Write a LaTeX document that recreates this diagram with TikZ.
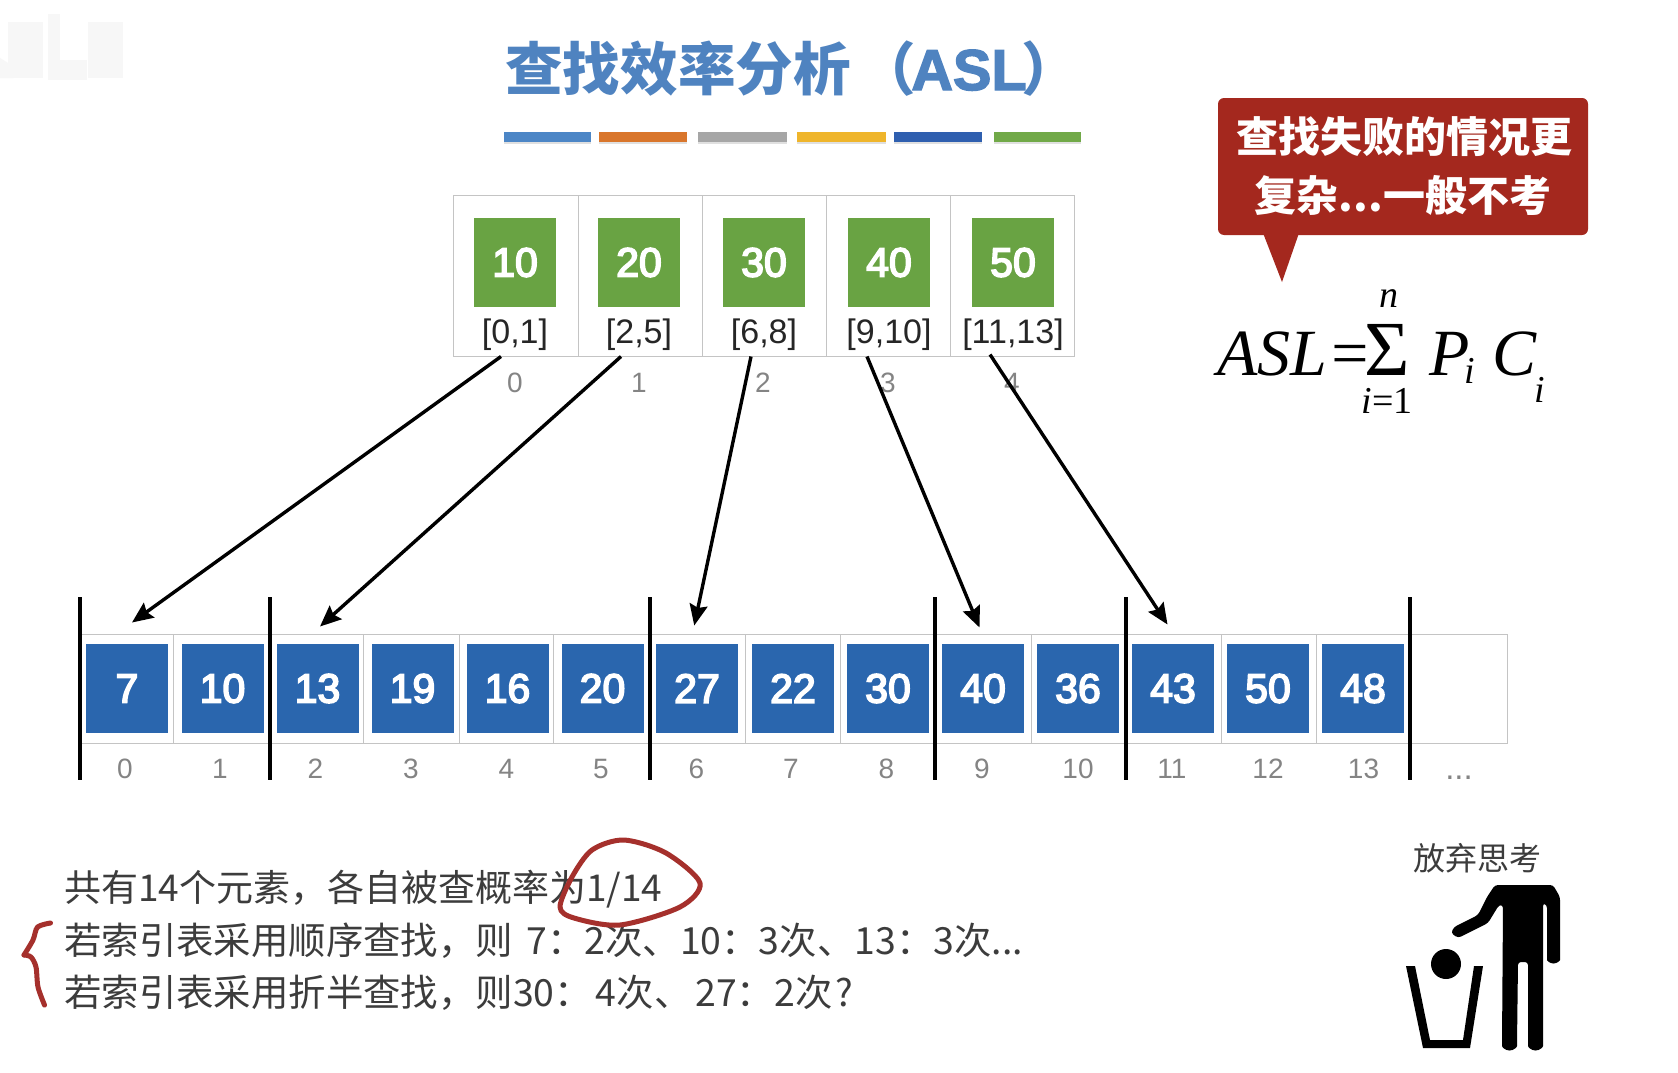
\documentclass[tikz,border=0pt]{standalone}
\usepackage{fontspec}
\setmainfont{Liberation Sans}
\newfontfamily\cjk{Noto Sans CJK SC}
\newfontfamily\tms{Liberation Serif}
\newfontfamily\numfont[FakeBold=4]{Liberation Sans}
\newfontfamily\asciititle[FakeBold=2.5]{Liberation Sans}
\usetikzlibrary{arrows.meta,calc}
\definecolor{titleblue}{HTML}{4F83C0}
\definecolor{cellgray}{HTML}{C4C4C4}
\definecolor{idxgray}{HTML}{848484}
\definecolor{boxblue}{HTML}{2A66AE}
\definecolor{boxgreen}{HTML}{69A343}
\definecolor{calloutred}{HTML}{A4281E}
\definecolor{inkred}{HTML}{A5302C}
\definecolor{bodytext}{HTML}{3C3C3C}
\definecolor{wm}{HTML}{F7F7F7}
\tikzset{
  cellbox/.style={draw=cellgray,line width=1pt,inner sep=0pt,fill=white},
  datablue/.style={fill=boxblue,text=white,minimum width=82pt,minimum height=89pt,inner sep=0pt,font=\numfont\fontsize{41}{46}\selectfont},
  datagreen/.style={fill=boxgreen,text=white,minimum width=82pt,minimum height=89pt,inner sep=0pt,font=\numfont\fontsize{41}{46}\selectfont},
  idxlabel/.style={text=idxgray,inner sep=0pt,font=\fontsize{28}{32}\selectfont},
  rangelabel/.style={text=black!85,inner sep=0pt,font=\fontsize{34}{38}\selectfont},
  link/.style={draw=black,line width=3.4pt,-{Stealth[length=21pt,width=18pt,inset=3pt]}},
  divider/.style={draw=black,line width=4pt},
  swatch/.style={line width=10pt},
  bodyline/.style={anchor=base west,inner sep=0pt,text=bodytext,font=\cjk\fontsize{37}{44}\selectfont},
  bodylineb/.style={bodyline,font=\cjk\fontsize{37.4}{44}\selectfont},
  calltext/.style={anchor=base,inner sep=0pt,text=white,font=\cjk\bfseries\fontsize{42}{48}\selectfont},
  formula/.style={anchor=base,inner sep=0pt,text=black,font=\tms\itshape\fontsize{66}{72}\selectfont},
  formulasm/.style={anchor=base,inner sep=0pt,text=black,font=\tms\itshape\fontsize{38}{44}\selectfont},
  ink/.style={draw=inkred,line width=5pt,line cap=round,line join=round},
}
\begin{document}
\begin{tikzpicture}[x=1pt,y=-1pt]
\useasboundingbox (0,0) rectangle (1678,1073);
\fill[white] (0,0) rectangle (1678,1073);
% watermark
\fill[wm] (8,22) rectangle (43,78);
\fill[wm] (48,14) rectangle (60,80);
\fill[wm] (57,60) rectangle (87,80);
\fill[wm] (88,22) rectangle (123,78);
\fill[wm] (0,78) -- (0,58) -- (13,66) -- (13,78) -- cycle;
% title
\node[anchor=base west,inner sep=0pt,text=titleblue,font=\cjk\bfseries\fontsize{57.6}{64}\selectfont] (title) at (505,90) {查找效率分析\hspace{8pt}（\hspace{-5pt}{\asciititle ASL}\hspace{-5pt}）};
% colour bars
\foreach \a/\b/\c in {504/591/4C86C6,599/687/D9762C,698/787/A6A6A6,797/886/EFB52B,894/982/2F5FAF,994/1081/71A948}{
  \definecolor{swc}{HTML}{\c}
  \draw[black!12,swatch] (\a,139) -- (\b,139);
  \draw[swc,swatch] (\a,137) -- (\b,137);
}
% top table
\foreach \i/\cx/\w in {0/515.5/125,1/640/124,2/764/124,3/888/124,4/1012/124}{
  \node[cellbox,minimum width=\w pt,minimum height=161pt] (t\i) at (\cx,275.5) {};
}
\foreach \i/\cx/\v/\r/\ix in {0/515/10/{[0,1]}/515,1/639/20/{[2,5]}/639,2/764/30/{[6,8]}/763,3/889/40/{[9,10]}/888,4/1013/50/{[11,13]}/1012}{
  \node[datagreen] (g\i) at (\cx,262.5) {\raisebox{-3.5pt}{\v}};
  \node[rangelabel] (r\i) at (\cx,335) {\r};
  \node[idxlabel] (ti\i) at (\ix,382.5) {\i};
}
% lower array
\foreach \i/\l/\r in {0/79/173,1/173/269,2/269/363,3/363/459,4/459/553,5/553/649.5,6/649.5/745,7/745/840,8/840/934,9/934/1031,10/1031/1126,11/1126/1221,12/1221/1316,13/1316/1410,14/1410/1507}{
  \node[cellbox,minimum width={(\r-\l)*1pt},minimum height=109pt] (a\i) at ({(\l+\r)/2},688.5) {};
}
\foreach \i/\cx/\v/\ix in {0/127/7/125,1/222.5/10/220,2/317.5/13/315.5,3/412.5/19/411,4/507.5/16/506.5,5/602.5/20/601,6/697/27/696.5,7/793/22/791,8/888/30/886.5,9/983/40/982,10/1078/36/1078,11/1173/43/1172,12/1268/50/1268,13/1363/48/1363.5}{
  \node[datablue] (b\i) at (\cx,688.5) {\raisebox{-3.5pt}{\v}};
  \node[idxlabel] (bi\i) at (\ix,769) {\i};
}
\node[idxlabel,anchor=base,font=\fontsize{33}{36}\selectfont] (bi14) at (1459,779) {...};
\foreach \x in {79.5,269.5,650,934.5,1126,1410}{
  \draw[divider] (\x,597) -- (\x,780);
}
% links
\draw[link] ([xshift=-14.5pt]t0.south) -- ([xshift=6pt,yshift=11pt]a0.north);
\draw[link] ([xshift=-19pt]t1.south) -- ([xshift=4pt,yshift=7pt]a2.north);
\draw[link] ([xshift=-13pt]t2.south) -- ([xshift=-3pt,yshift=8pt]a6.north);
\draw[link] ([xshift=-21pt]t3.south) -- ([xshift=-3pt,yshift=6pt]a9.north);
\draw[link] ([xshift=-22pt,yshift=2pt]t4.south) -- ([xshift=-6pt,yshift=9pt]a11.north);
% callout
\fill[calloutred,rounded corners=6pt] (1218,98) rectangle (1588,235);
\fill[calloutred] (1263,233) -- (1299,233) -- (1282,282) -- cycle;
\node[calltext] (c1) at (1404,152) {查找失败的情况更};
\node[calltext] (c2) at (1403,211) {复杂...一般不考};
% formula
\node[formula,anchor=base west] (f1) at (1217,375) {ASL=};
\node[anchor=base,inner sep=0pt,font=\tms\fontsize{78}{84}\selectfont] (f2) at (1387,375) {Σ};
\node[formulasm] (f3) at (1389,307) {n};
\node[formulasm,font=\tms\fontsize{38}{44}\selectfont] (f4) at (1387,413) {\textit{i}=1};
\node[formula,anchor=base west] (f5) at (1429,375) {P};
\node[formulasm] (f6) at (1470,383) {i};
\node[formula,anchor=base west] (f7) at (1492,375) {C};
\node[formulasm] (f8) at (1540,402) {i};
% bottom text
\node[bodyline] (l1) at (64,901) {共有14个元素，各自被查概率为1/14};
\node[bodylineb] (l2) at (64,954) {若索引表采用顺序查找，则\hspace{5pt} 7：2次、10：3次、13：3次...};
\node[bodylineb] (l3) at (64,1006) {若索引表采用折半查找，则30：\hspace{4pt}4次、\hspace{4pt}27：2次\hspace{3pt}?};
% handwriting
\draw[ink] plot[smooth cycle] coordinates {(624,840) (666,853) (700,883) (680,907) (620,925) (574,918) (560,907) (572,877) (592,850)};
\draw[ink] plot[smooth,tension=0.5] coordinates {(50.5,923) (37.6,927) (33,940) (24,955)};
\draw[ink] plot[smooth,tension=0.5] coordinates {(24,955) (31,957) (36,967) (38,987) (44.5,1005)};
% give-up icon
\node[anchor=base,inner sep=0pt,text=bodytext,font=\cjk\fontsize{32}{38}\selectfont] (giveup) at (1477,870) {放弃思考};
\fill[black,rounded corners=3pt] (1495,885) -- (1553,885) -- (1560,897) -- (1560,957) arc[start angle=0,end angle=180,radius=6.5] -- (1547,905) -- (1543,903) -- (1543,1043) arc[start angle=0,end angle=180,radius=7.5] -- (1528,962) -- (1518,962) -- (1517,1043) arc[start angle=0,end angle=180,radius=7.5] -- (1503,905) -- (1499,905) -- (1488,923) -- (1458,938) -- (1451,933) -- (1454,927) -- (1478,915) -- (1487,897) -- cycle;
\fill[black] (1446,964) circle[radius=15];
\fill[black] (1406,966) -- (1415,966) -- (1430,1040) -- (1463,1040) -- (1474,966) -- (1483,966) -- (1470,1048) -- (1423,1048) -- cycle;
\end{tikzpicture}
\end{document}
